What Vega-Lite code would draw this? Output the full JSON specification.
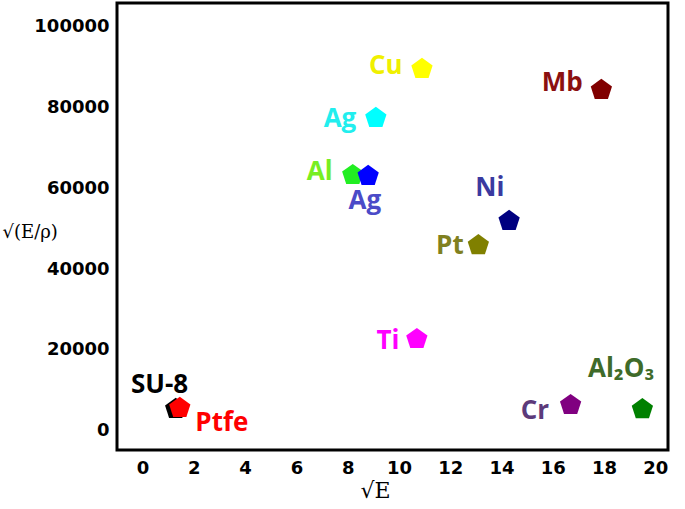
{
  "$schema": "https://vega.github.io/schema/vega-lite/v6.json",
  "autosize": "none",
  "width": 551,
  "height": 447,
  "padding": {"left": 117, "top": 3, "right": 17, "bottom": 59},
  "background": "white",
  "config": {
    "view": {"stroke": "black", "strokeWidth": 3},
    "axis": {"domain": false, "ticks": false, "grid": false, "labelFont": "DejaVu Sans", "labelFontWeight": "bold", "labelFontSize": 18, "labelColor": "black"}
  },
  "datasets": {
    "points": [
      {"key": "SU-8", "x": 1.29, "y": 5430},
      {"key": "Ptfe", "x": 1.45, "y": 5680},
      {"key": "Al", "x": 8.2, "y": 63200},
      {"key": "Ag-blue", "x": 8.8, "y": 63000},
      {"key": "Ag-cyan", "x": 9.1, "y": 77300},
      {"key": "Cu", "x": 10.9, "y": 89400},
      {"key": "Mb", "x": 17.9, "y": 84200},
      {"key": "Ni", "x": 14.3, "y": 51850},
      {"key": "Pt", "x": 13.1, "y": 45900},
      {"key": "Ti", "x": 10.7, "y": 22700},
      {"key": "Cr", "x": 16.7, "y": 6400},
      {"key": "Al2O3", "x": 19.5, "y": 5400}
    ],
    "labels": [
      {"key": "SU-8", "text": "SU-8", "x": 0.66, "y": 11360},
      {"key": "Ptfe", "text": "Ptfe", "x": 3.09, "y": 1975},
      {"key": "Al", "text": "Al", "x": 6.91, "y": 63950},
      {"key": "Ag-cyan", "text": "Ag", "x": 7.7, "y": 77040},
      {"key": "Ag-blue", "text": "Ag", "x": 8.67, "y": 56790},
      {"key": "Cu", "text": "Cu", "x": 9.49, "y": 90120},
      {"key": "Mb", "text": "Mb", "x": 16.37, "y": 85930},
      {"key": "Ni", "text": "Ni", "x": 13.55, "y": 60000},
      {"key": "Pt", "text": "Pt", "x": 11.99, "y": 45680},
      {"key": "Ti", "text": "Ti", "x": 9.57, "y": 22220},
      {"key": "Cr", "text": "Cr", "x": 15.31, "y": 4940},
      {"key": "Al2O3", "text": "Al₂O₃", "x": 18.67, "y": 15310}
    ]
  },
  "layer": [
    {
      "data": {"name": "points"},
      "mark": {"type": "point", "filled": true, "opacity": 1, "size": 500, "shape": "M0,-1L0.951,-0.309L0.588,0.809L-0.588,0.809L-0.951,-0.309Z"},
      "encoding": {
        "x": {"field": "x", "type": "quantitative", "scale": {"domain": [-1, 20.5], "nice": false, "zero": false},
          "axis": {"values": [0, 2, 4, 6, 8, 10, 12, 14, 16, 18, 20], "labelPadding": 9, "title": "√E", "titleFont": "DejaVu Serif", "titleFontWeight": "normal", "titleFontSize": 22, "titlePadding": 3, "titleX": 258}},
        "y": {"field": "y", "type": "quantitative", "scale": {"domain": [-4700, 105700], "nice": false, "zero": false},
          "axis": {"values": [0, 20000, 40000, 60000, 80000, 100000], "format": "d", "labelPadding": 8, "title": "√(E/ρ)", "titleFont": "DejaVu Serif", "titleFontWeight": "normal", "titleFontSize": 18, "titleAngle": 0, "titleX": -115, "titleY": 238, "titleAlign": "left"}},
        "color": {"field": "key", "type": "nominal", "legend": null,
          "scale": {"domain": ["SU-8", "Ptfe", "Al", "Ag-blue", "Ag-cyan", "Cu", "Mb", "Ni", "Pt", "Ti", "Cr", "Al2O3"],
                    "range": ["#000000", "#ff0000", "#22ee22", "#0000ff", "#00ffff", "#ffff00", "#800000", "#000080", "#808000", "#ff00ff", "#800080", "#008000"]}}
      }
    },
    {
      "data": {"name": "labels"},
      "mark": {"type": "text", "font": "Open Sans", "fontWeight": "bold", "fontSize": 26, "align": "center", "baseline": "middle"},
      "encoding": {
        "x": {"field": "x", "type": "quantitative"},
        "y": {"field": "y", "type": "quantitative"},
        "text": {"field": "text"},
        "color": {"field": "key", "type": "nominal", "legend": null,
          "scale": {"domain": ["SU-8", "Ptfe", "Al", "Ag-blue", "Ag-cyan", "Cu", "Mb", "Ni", "Pt", "Ti", "Cr", "Al2O3"],
                    "range": ["#000000", "#ff0000", "#77ee22", "#4b4bc8", "#22eeee", "#f0f000", "#8b1010", "#3a3aa0", "#808020", "#ff00ff", "#5c3a7a", "#3f6b2a"]}}
      }
    }
  ],
  "resolve": {"scale": {"color": "independent"}}
}
